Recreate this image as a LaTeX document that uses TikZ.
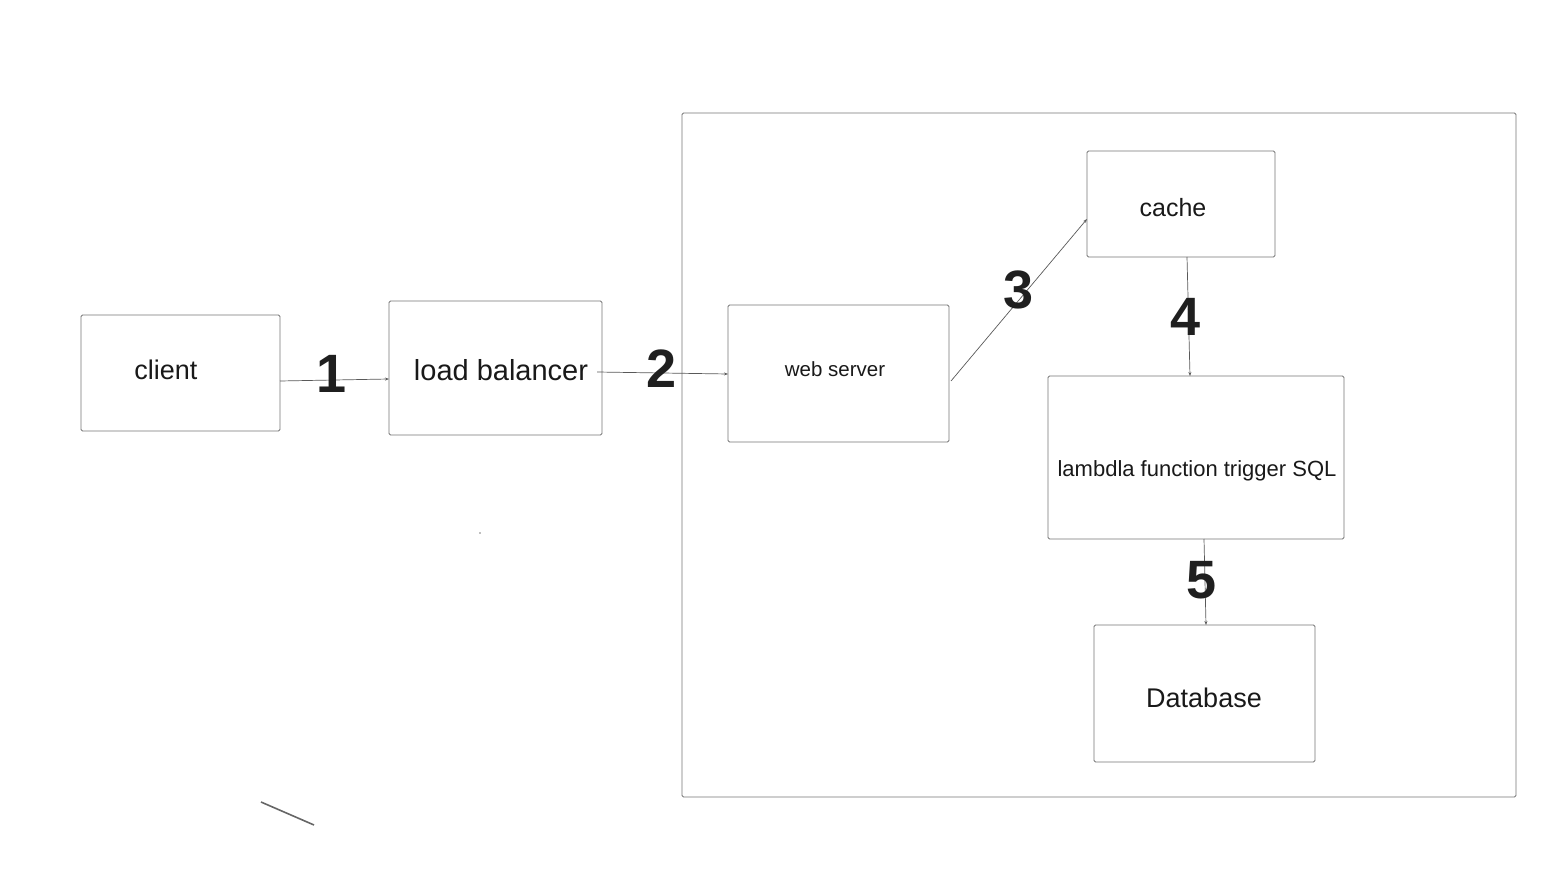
\documentclass[tikz,border=0pt]{standalone}
\usepackage{fontspec}
\setmainfont{Liberation Sans}
\usetikzlibrary{arrows.meta}
\begin{document}
\begin{tikzpicture}[x=1pt,y=-1pt,
  boxst/.style={draw=black!55,line width=0.8pt,rounded corners=1.5pt},
  lbl/.style={font=\fontsize{#1}{#1}\selectfont,text=black!90,inner sep=0pt},
  num/.style={font=\fontsize{54}{54}\selectfont\bfseries,text=black!88,inner sep=0pt},
  conn/.style={draw=black!65,line width=0.7pt,-{Stealth[length=4pt,width=3pt]}}]
\useasboundingbox (0,0) rectangle (1566,874);
% container
\draw[boxst] (682,113) rectangle (1516,797);
% boxes
\draw[boxst] (81,315) rectangle (280,431);
\draw[boxst] (389,301) rectangle (602,435);
\draw[boxst] (728,305) rectangle (949,442);
\draw[boxst] (1087,151) rectangle (1275,257);
\draw[boxst] (1048,376) rectangle (1344,539);
\draw[boxst] (1094,625) rectangle (1315,762);
% labels
\node[lbl=27] (client) at (166,370) {client};
\node[lbl=29] (lb) at (501,370) {load balancer};
\node[lbl=20.5] (ws) at (835,369) {web server};
\node[lbl=25] (cache) at (1173,208) {cache};
\node[lbl=22] (lam) at (1197,471) {lambdla function trigger SQL};
\node[lbl=27] (db) at (1204,698) {Database};
% anchor coordinates
\coordinate (c1a) at (280,381); \coordinate (c1b) at (389,379);
\coordinate (c2a) at (597,372); \coordinate (c2b) at (728,374);
\coordinate (c3a) at (951,381); \coordinate (c3b) at (1087,219);
\coordinate (c4a) at (1187,257); \coordinate (c4b) at (1190,376);
\coordinate (c5a) at (1204,539); \coordinate (c5b) at (1206,625);
\draw[conn] (c1a) -- (c1b);
\draw[conn] (c2a) -- (c2b);
\draw[conn] (c3a) -- (c3b);
\draw[conn] (c4a) -- (c4b);
\draw[conn] (c5a) -- (c5b);
% numbers
\node[num] (n1) at (332,374) {1};
\node[num] (n2) at (662,369) {2};
\node[num] (n3) at (1019,290) {3};
\node[num] (n4) at (1186,317) {4};
\node[num] (n5) at (1202,580) {5};
% stray marks
\coordinate (s1) at (261,802); \coordinate (s2) at (314,825);
\draw[draw=black!60,line width=1.6pt] (s1) -- (s2);
\fill[black!50] (480,533) circle (0.8);
\end{tikzpicture}
\end{document}
